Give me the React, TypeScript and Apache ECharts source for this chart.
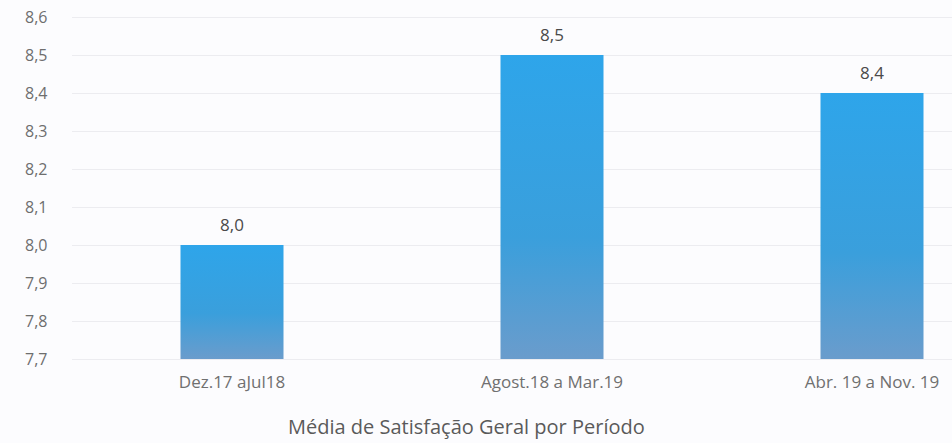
import React, { useEffect, useRef } from "react";
import * as echarts from "echarts";

const categories = ["Dez.17 aJul18", "Agost.18 a Mar.19", "Abr. 19 a Nov. 19"];
const values = [8.0, 8.5, 8.4];
const yMin = 7.7;
const yMax = 8.6;
const yInterval = 0.1;
const chartTitle = "Média de Satisfação Geral por Período";

const fmt = (v: number) => v.toFixed(1).replace(".", ",");

export default function App() {
  const ref = useRef<HTMLDivElement>(null);
  useEffect(() => {
    if (!ref.current) return;
    const chart = echarts.init(ref.current, undefined, { renderer: "svg" });
    const font = "'Open Sans', 'Noto Sans', sans-serif";
    chart.setOption({
      animation: false,
      backgroundColor: "#fcfcfe",
      grid: { left: 72, top: 17, width: 960, height: 342, outerBoundsMode: "none", containLabel: false },
      xAxis: {
        type: "category",
        data: categories,
        axisLine: { show: false },
        axisTick: { show: false },
        axisLabel: { color: "#707070", fontSize: 17, fontFamily: font, margin: 14 },
      },
      yAxis: {
        type: "value",
        min: yMin,
        max: yMax,
        interval: yInterval,
        axisLine: { show: false },
        axisTick: { show: false },
        axisLabel: {
          color: "#6e6e6e",
          fontSize: 16,
          fontFamily: font,
          align: "left",
          margin: 47,
          formatter: (v: number) => fmt(v),
        },
        splitLine: { lineStyle: { color: "#ececf0", width: 1 } },
      },
      series: [
        {
          type: "bar",
          data: values,
          barWidth: 103,
          itemStyle: {
            color: new echarts.graphic.LinearGradient(0, 0, 0, 1, [
              { offset: 0, color: "#2ea5ea" },
              { offset: 0.6, color: "#3a9fdc" },
              { offset: 1, color: "#6a9ccc" },
            ]),
          },
          label: {
            show: true,
            position: "top",
            distance: 12,
            color: "#4a4a4a",
            fontSize: 17,
            fontFamily: font,
            formatter: (p: any) => fmt(p.value),
          },
        },
      ],
      graphic: [
        {
          type: "text",
          left: 288,
          top: 416,
          style: {
            text: chartTitle,
            fill: "#5a5a5a",
            fontSize: 20,
            fontFamily: font,
          },
        },
      ],
    });
    return () => chart.dispose();
  }, []);
  return (
    <div
      ref={ref}
      style={{ position: "absolute", left: 0, top: 0, width: 952, height: 443 }}
    />
  );
}
